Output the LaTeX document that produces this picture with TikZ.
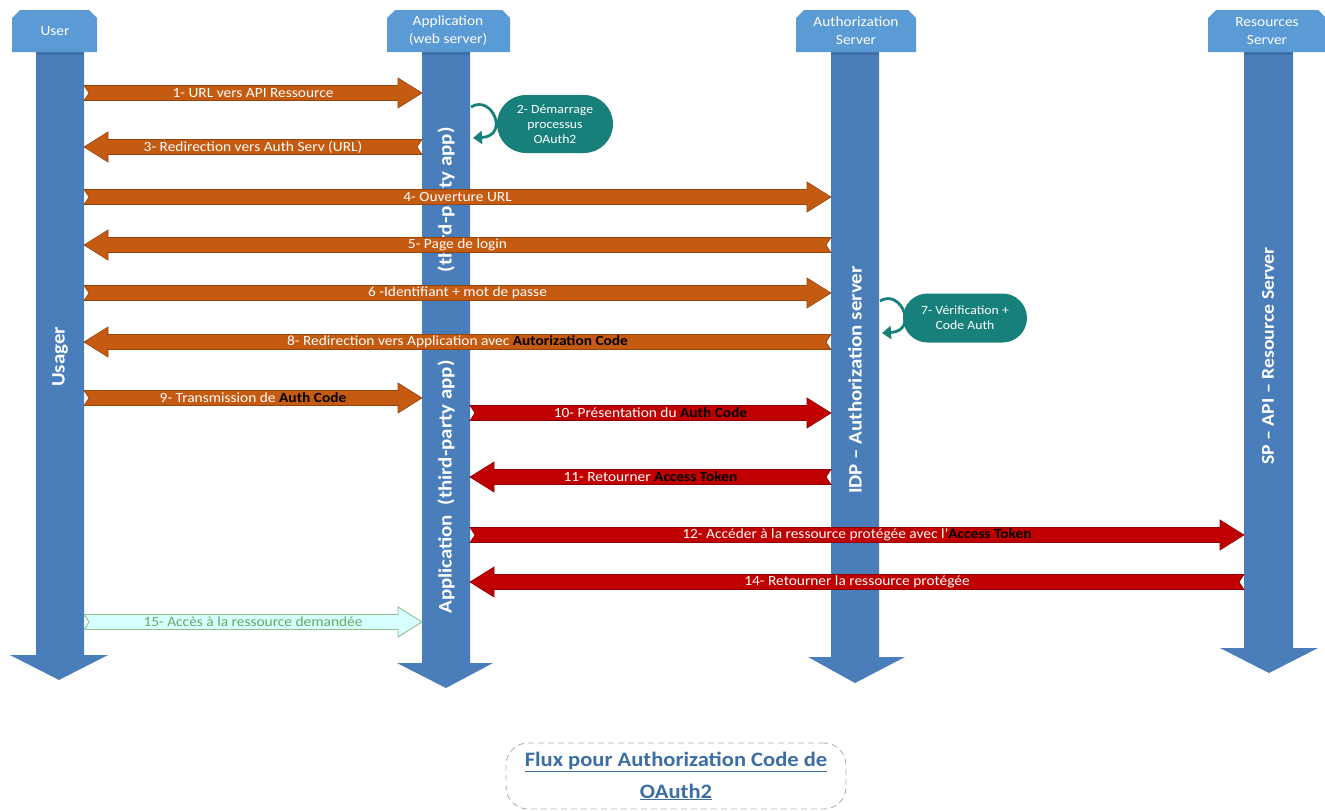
\documentclass[tikz,border=0pt]{standalone}
\usepackage{fontspec}
\setmainfont{Carlito}[FakeStretch=1.1]
\usetikzlibrary{calc,arrows.meta,shapes.misc}
\definecolor{barblue}{HTML}{4A7EBB}
\definecolor{barblueD}{HTML}{3F6FA8}
\definecolor{hdrblue}{HTML}{5B9BD5}
\definecolor{msgor}{HTML}{C55A11}
\definecolor{msgred}{HTML}{C00000}
\definecolor{tealc}{HTML}{17807A}
\definecolor{cyanf}{HTML}{D8FFFF}
\definecolor{cyanb}{HTML}{8DC08D}
\definecolor{greent}{HTML}{62AA62}
\definecolor{capblue}{HTML}{3B6EA5}
\newcommand\keyw[1]{\textcolor{black}{\textbf{#1}}}
% right-pointing block arrow from #1 to #2
\newcommand\msgR[3]{%
  \draw[#3] ($(#1)+(0,-7.5)$) -- ($(#2)+(-24,-7.5)$) -- ($(#2)+(-24,-15)$) -- (#2)
    -- ($(#2)+(-24,15)$) -- ($(#2)+(-24,7.5)$) -- ($(#1)+(0,7.5)$) -- ($(#1)+(5,0)$) -- cycle;}
% left-pointing block arrow from #1 to #2
\newcommand\msgL[3]{%
  \draw[#3] ($(#1)+(0,-7.5)$) -- ($(#2)+(24,-7.5)$) -- ($(#2)+(24,-15)$) -- (#2)
    -- ($(#2)+(24,15)$) -- ($(#2)+(24,7.5)$) -- ($(#1)+(0,7.5)$) -- ($(#1)+(-5,0)$) -- cycle;}
\begin{document}
\begin{tikzpicture}[x=1pt,y=-1pt,
  hdr/.style={fill=hdrblue},
  lifebar/.style={fill=barblue},
  hdrtxt/.style={text=white, align=center, font=\fontsize{14}{18}\selectfont, inner sep=0},
  bartxt/.style={text=white, rotate=90, font=\bfseries\fontsize{19}{22}\selectfont, inner sep=0},
  ormsg/.style={fill=msgor, draw=msgor!75!black, line width=0.6pt},
  redmsg/.style={fill=msgred, draw=msgred!75!black, line width=0.6pt},
  cyanmsg/.style={fill=cyanf, draw=cyanb, line width=0.9pt},
  lbl/.style={text=white, inner sep=0, font=\fontsize{14}{16}\selectfont},
  lblg/.style={text=greent, inner sep=0, font=\fontsize{14}{16}\selectfont},
  tealnode/.style={rounded rectangle, fill=tealc, text=white, align=center, font=\fontsize{12.5}{15}\selectfont, inner sep=0},
  selfloop/.style={draw=tealc, line width=2.8pt, -{Triangle[length=9pt,width=13pt]}}
]
\useasboundingbox (0,0) rectangle (1325,811);

% ---------- headers ----------
\fill[hdr] (12,52) -- (12,18) -- (20,10) -- (89,10) -- (97,18) -- (97,52) -- cycle;
\node[hdrtxt] (hUser) at (55,31) {User};
\fill[hdr] (387,52) -- (387,18) -- (395,10) -- (502,10) -- (510,18) -- (510,52) -- cycle;
\node[hdrtxt] (hApp) at (448,31) {Application\\(web server)};
\fill[hdr] (796,52) -- (796,18) -- (804,10) -- (908,10) -- (916,18) -- (916,52) -- cycle;
\node[hdrtxt] (hAuth) at (856,31) {Authorization\\Server};
\fill[hdr] (1208,52) -- (1208,18) -- (1216,10) -- (1318,10) -- (1325,17) -- (1325,52) -- cycle;
\node[hdrtxt] (hRes) at (1267,31) {Resources\\Server};

% ---------- lifelines ----------
\fill[lifebar] (36,52) -- (84,52) -- (84,655) -- (108,655) -- (59,680) -- (10,655) -- (36,655) -- cycle;
\fill[lifebar] (422,52) -- (470,52) -- (470,663) -- (493,663) -- (446,688) -- (397,663) -- (422,663) -- cycle;
\fill[lifebar] (831,52) -- (879,52) -- (879,657) -- (905,657) -- (855,683) -- (808,657) -- (831,657) -- cycle;
\fill[lifebar] (1244,52) -- (1293,52) -- (1293,648) -- (1318,648) -- (1269,673) -- (1220,648) -- (1244,648) -- cycle;
\fill[barblueD] (36,52) rectangle (84,55);
\fill[barblueD] (422,52) rectangle (470,55);
\fill[barblueD] (831,52) rectangle (879,55);
\fill[barblueD] (1244,52) rectangle (1293,55);

\node[bartxt] (tUser) at (60,357) {Usager};
\node[bartxt] (tApp1) at (446,200) {(third-party app)};
\node[bartxt] (tApp2) at (446,487) {Application\ \ (third-party app)};
\node[bartxt] (tAuth) at (855,380) {IDP – Authorization server};
\node[bartxt, font=\bfseries\fontsize{18}{22}\selectfont] (tRes) at (1268,356) {SP – API – Resource Server};

% ---------- message end points ----------
\coordinate (m1s) at (84,93);   \coordinate (m1e) at (422,93);
\coordinate (m3s) at (422,147); \coordinate (m3e) at (84,147);
\coordinate (m4s) at (84,197);  \coordinate (m4e) at (831,197);
\coordinate (m5s) at (831,245); \coordinate (m5e) at (84,245);
\coordinate (m6s) at (84,293);  \coordinate (m6e) at (831,293);
\coordinate (m8s) at (831,342); \coordinate (m8e) at (84,342);
\coordinate (m9s) at (84,398);  \coordinate (m9e) at (422,398);
\coordinate (m10s) at (470,413); \coordinate (m10e) at (831,413);
\coordinate (m11s) at (831,477); \coordinate (m11e) at (470,477);
\coordinate (m12s) at (470,535); \coordinate (m12e) at (1244,535);
\coordinate (m14s) at (1244,582); \coordinate (m14e) at (470,582);
\coordinate (m15s) at (84,622); \coordinate (m15e) at (422,622);

% ---------- messages ----------
\msgR{m1s}{m1e}{ormsg}
\path (m1s) -- (m1e) node[midway, lbl] (l1) {1- URL vers API Ressource};
\msgL{m3s}{m3e}{ormsg}
\path (m3s) -- (m3e) node[midway, lbl] (l3) {3- Redirection vers Auth Serv (URL)};
\msgR{m4s}{m4e}{ormsg}
\path (m4s) -- (m4e) node[midway, lbl] (l4) {4- Ouverture URL};
\msgL{m5s}{m5e}{ormsg}
\path (m5s) -- (m5e) node[midway, lbl] (l5) {5- Page de login};
\msgR{m6s}{m6e}{ormsg}
\path (m6s) -- (m6e) node[midway, lbl] (l6) {6 -Identifiant + mot de passe};
\msgL{m8s}{m8e}{ormsg}
\path (m8s) -- (m8e) node[midway, lbl] (l8) {8- Redirection vers Application avec \keyw{Autorization Code}};
\msgR{m9s}{m9e}{ormsg}
\path (m9s) -- (m9e) node[midway, lbl] (l9) {9- Transmission de \keyw{Auth Code}};
\msgR{m10s}{m10e}{redmsg}
\path (m10s) -- (m10e) node[midway, lbl] (l10) {10- Présentation du \keyw{Auth Code}};
\msgL{m11s}{m11e}{redmsg}
\path (m11s) -- (m11e) node[midway, lbl] (l11) {11- Retourner \keyw{Access Token}};
\msgR{m12s}{m12e}{redmsg}
\path (m12s) -- (m12e) node[midway, lbl] (l12) {12- Accéder à la ressource protégée avec l'\keyw{Access Token}};
\msgL{m14s}{m14e}{redmsg}
\path (m14s) -- (m14e) node[midway, lbl] (l14) {14- Retourner la ressource protégée};
\msgR{m15s}{m15e}{cyanmsg}
\path (m15s) -- (m15e) node[midway, lblg] (l15) {15- Accès à la ressource demandée};

% ---------- internal processing ----------
\node[tealnode, minimum width=116pt, minimum height=58pt] (p2) at (555,124) {2- Démarrage\\processus\\OAuth2};
\coordinate (s2a) at (471,107); \coordinate (s2b) at (473,138);
\draw[selfloop] (s2a) .. controls (492,94) and (510,136) .. (s2b);
\node[tealnode, minimum width=124pt, minimum height=49pt] (p7) at (965,318) {7- Vérification +\\Code Auth};
\coordinate (s7a) at (880,301); \coordinate (s7b) at (882,333);
\draw[selfloop] (s7a) .. controls (901,288) and (919,331) .. (s7b);

% ---------- caption ----------
\node[draw=gray!60, dashed, dash pattern=on 6pt off 4pt, line width=0.9pt, rounded corners=22pt,
  fill=white, minimum width=340pt, minimum height=66pt, text=capblue, align=center,
  font=\bfseries\fontsize{20.5}{32}\selectfont] (cap) at (676,776)
  {\underline{Flux pour Authorization Code de}\\\underline{OAuth2}};
\end{tikzpicture}
\end{document}
